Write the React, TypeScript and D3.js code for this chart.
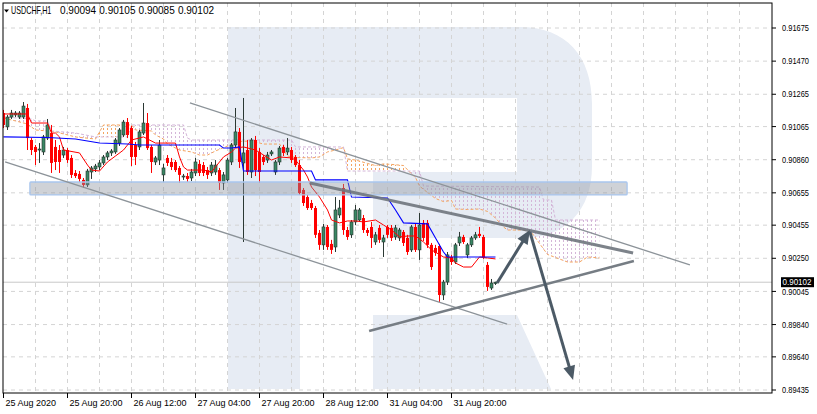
import * as d3 from "d3";

type Pt = [number, number];

// x axis labels, one every 16 hourly bars
const timeLabels = ["25 Aug 2020", "25 Aug 20:00", "26 Aug 12:00", "27 Aug 04:00", "27 Aug 20:00", "28 Aug 12:00", "31 Aug 04:00", "31 Aug 20:00"];
const timeLabelBars = [0, 16, 32, 48, 64, 80, 96, 112];

// right axis labels as MT4 prints them
const priceTicks = [0.91675, 0.9147, 0.91265, 0.91065, 0.9086, 0.90655, 0.90455, 0.9025, 0.90045, 0.8984, 0.8964, 0.89435];

const headerSymbol = "USDCHF,H1";
const headerValues = ["0.90094", "0.90105", "0.90085", "0.90102"];
const lastPrice = 0.90102;

// USDCHF H1 candles
const opens = [
  0.91149, 0.91063, 0.91124, 0.91137, 0.91124, 0.91124, 0.9118, 0.90982, 0.90939, 0.9092,
  0.90908, 0.90994, 0.91025, 0.90939, 0.9092, 0.90889, 0.9092, 0.90871, 0.90778, 0.90772,
  0.90735, 0.90704, 0.90784, 0.90803, 0.90815, 0.9084, 0.90877, 0.90902, 0.90908, 0.90963,
  0.91013, 0.91093, 0.91056, 0.90951, 0.90939, 0.91025, 0.91087, 0.90939, 0.90846, 0.90858,
  0.90766, 0.90871, 0.90846, 0.90846, 0.90809, 0.90753, 0.90759, 0.90747, 0.90778, 0.90834,
  0.90827, 0.90796, 0.90778, 0.90784, 0.90796, 0.90716, 0.90735, 0.90846, 0.90951, 0.91032,
  0.9084, 0.9092, 0.90784, 0.90982, 0.90908, 0.90877, 0.90858, 0.90896, 0.90784, 0.90846,
  0.90939, 0.90908, 0.9092, 0.90877, 0.90827, 0.90673, 0.90629, 0.90592, 0.90561, 0.90407,
  0.90333, 0.90444, 0.90339, 0.9032, 0.90518, 0.90685, 0.90425, 0.90395, 0.90475, 0.90487,
  0.90499, 0.90425, 0.90444, 0.90351, 0.90438, 0.90351, 0.90444, 0.90438, 0.90382, 0.90376,
  0.90413, 0.90376, 0.90302, 0.90444, 0.90302, 0.90469, 0.90469, 0.90333, 0.90314, 0.90326,
  0.90023, 0.90103, 0.90258, 0.90227, 0.90345, 0.90382, 0.90271, 0.90333, 0.90376, 0.90401,
  0.90382, 0.90209, 0.90066, 0.90094,
];
const highs = [
  0.91168, 0.91137, 0.91168, 0.91161, 0.91161, 0.91217, 0.91205, 0.90994, 0.90951, 0.90963,
  0.91013, 0.91112, 0.91075, 0.90982, 0.90951, 0.90939, 0.90932, 0.90889, 0.90796, 0.9079,
  0.90747, 0.90803, 0.90821, 0.90834, 0.90858, 0.90889, 0.90914, 0.90926, 0.90994, 0.91056,
  0.91106, 0.91118, 0.91069, 0.9097, 0.91044, 0.91211, 0.91149, 0.90951, 0.90883, 0.90982,
  0.90834, 0.90889, 0.90871, 0.90858, 0.90821, 0.90772, 0.90778, 0.90803, 0.90871, 0.90858,
  0.90846, 0.90815, 0.90846, 0.90858, 0.90809, 0.90784, 0.90871, 0.90963, 0.9118, 0.91056,
  0.91242, 0.90982, 0.90994, 0.91007, 0.90932, 0.90889, 0.90908, 0.9092, 0.90858, 0.90945,
  0.90951, 0.90994, 0.90939, 0.90889, 0.90858, 0.90685, 0.90642, 0.90611, 0.90574, 0.90425,
  0.90463, 0.90456, 0.90364, 0.90629, 0.90611, 0.9071, 0.90444, 0.90487, 0.9058, 0.90561,
  0.90518, 0.90438, 0.90475, 0.90413, 0.90456, 0.90395, 0.90456, 0.90456, 0.90456, 0.90438,
  0.90425, 0.90395, 0.90456, 0.90463, 0.9053, 0.90487, 0.90487, 0.90345, 0.90333, 0.90339,
  0.90116, 0.90289, 0.90271, 0.90345, 0.90413, 0.90395, 0.90345, 0.90388, 0.90413, 0.90444,
  0.90395, 0.90227, 0.90122, 0.90105,
];
const lows = [
  0.91056, 0.91044, 0.91112, 0.91124, 0.91112, 0.91112, 0.9092, 0.90889, 0.90827, 0.9084,
  0.90889, 0.90982, 0.90778, 0.90796, 0.90778, 0.90871, 0.9084, 0.90747, 0.90747, 0.90722,
  0.90685, 0.90691, 0.90741, 0.90784, 0.90796, 0.90827, 0.90858, 0.90883, 0.90896, 0.90945,
  0.91001, 0.90994, 0.90821, 0.90827, 0.9092, 0.91013, 0.9092, 0.90778, 0.90827, 0.90827,
  0.90722, 0.90821, 0.90796, 0.90784, 0.90716, 0.90735, 0.90722, 0.90728, 0.90759, 0.90759,
  0.90759, 0.90741, 0.90759, 0.90766, 0.90673, 0.90673, 0.90716, 0.90827, 0.90932, 0.90809,
  0.90351, 0.90766, 0.90747, 0.90759, 0.90716, 0.90827, 0.9084, 0.90883, 0.90766, 0.90827,
  0.90883, 0.90889, 0.9084, 0.90815, 0.90642, 0.90574, 0.90549, 0.90549, 0.90376, 0.90302,
  0.90302, 0.90302, 0.90277, 0.90289, 0.90499, 0.90395, 0.90364, 0.90376, 0.90456, 0.90475,
  0.90407, 0.90388, 0.90314, 0.90333, 0.90345, 0.90258, 0.90376, 0.90357, 0.90364, 0.90357,
  0.90326, 0.90271, 0.90289, 0.90289, 0.9024, 0.90357, 0.90314, 0.90178, 0.90265, 0.8998,
  0.89992, 0.90085, 0.90209, 0.90215, 0.90326, 0.90339, 0.90252, 0.9032, 0.90364, 0.90376,
  0.90246, 0.90048, 0.90054, 0.90085,
];
const closes = [
  0.91075, 0.91124, 0.91149, 0.91149, 0.91149, 0.91192, 0.90994, 0.9092, 0.90908, 0.90926,
  0.91001, 0.91075, 0.9084, 0.90846, 0.90846, 0.9092, 0.90858, 0.90766, 0.90759, 0.90741,
  0.90704, 0.9079, 0.90809, 0.90821, 0.9084, 0.90877, 0.90902, 0.90914, 0.90982, 0.91044,
  0.91093, 0.91013, 0.90877, 0.90877, 0.91032, 0.91087, 0.90932, 0.90846, 0.90871, 0.90951,
  0.90809, 0.9084, 0.90815, 0.90796, 0.90766, 0.90759, 0.90741, 0.90784, 0.90846, 0.90778,
  0.90778, 0.90766, 0.90827, 0.90827, 0.90716, 0.90766, 0.90858, 0.90951, 0.91032, 0.90846,
  0.90902, 0.90784, 0.90982, 0.90796, 0.90784, 0.90846, 0.90889, 0.90908, 0.90846, 0.90932,
  0.90902, 0.90932, 0.90858, 0.90827, 0.90654, 0.90592, 0.90561, 0.90561, 0.90395, 0.90333,
  0.90444, 0.9032, 0.90302, 0.90549, 0.90561, 0.90425, 0.90382, 0.90475, 0.90549, 0.90549,
  0.90425, 0.90407, 0.90376, 0.90395, 0.90364, 0.90376, 0.90395, 0.90376, 0.90438, 0.90425,
  0.90345, 0.90289, 0.90444, 0.90302, 0.90456, 0.90376, 0.90333, 0.90196, 0.90283, 0.90023,
  0.90103, 0.90271, 0.90227, 0.90333, 0.90382, 0.90351, 0.90333, 0.90376, 0.90395, 0.90388,
  0.90258, 0.90073, 0.90097, 0.90102,
];

// Ichimoku, [bar, price]
const tenkan: Pt[] = [
  [0, 0.91143], [6, 0.91143], [7, 0.91087], [11, 0.91087], [12, 0.91025], [13, 0.91025], [14, 0.91001],
  [15, 0.9092], [19, 0.90902], [21, 0.90827], [22, 0.90796], [24, 0.9079], [26, 0.90846], [28, 0.90883],
  [30, 0.9092], [31, 0.90951], [32, 0.90982], [35, 0.91001], [38, 0.90963], [43, 0.90963], [44, 0.90877],
  [45, 0.90815], [46, 0.90796], [50, 0.90796], [52, 0.90784], [53, 0.90815], [55, 0.90877], [57, 0.90908],
  [58, 0.90932], [60, 0.90939], [63, 0.9092], [65, 0.90889], [67, 0.90858], [69, 0.90877], [72, 0.90871],
  [73, 0.90858], [75, 0.90796], [76, 0.90753], [77, 0.90691], [79, 0.90629], [81, 0.90549], [82, 0.90487],
  [84, 0.90469], [86, 0.90481], [88, 0.90481], [90, 0.90475], [93, 0.90487], [95, 0.90456], [97, 0.90425],
  [99, 0.90382], [101, 0.90388], [103, 0.90388], [105, 0.90351], [107, 0.90302], [110, 0.90258], [112, 0.90252],
  [113, 0.90221], [115, 0.90196], [117, 0.90196], [119, 0.90258], [121, 0.90252], [123, 0.90246],
];
const kijun: Pt[] = [
  [0, 0.91001], [11, 0.90997], [18, 0.90988], [24, 0.90963], [31, 0.90957], [34, 0.90951], [54, 0.90951],
  [55, 0.90932], [57, 0.90932], [59, 0.90939], [60, 0.9079], [77, 0.9079], [78, 0.90735], [86, 0.90735],
  [87, 0.90629], [96, 0.90623], [98, 0.90549], [100, 0.90469], [106, 0.90463], [108, 0.90376], [110, 0.90289],
  [111, 0.90258], [123, 0.90258],
];
const spanA: Pt[] = [
  [0, 0.91118], [3, 0.911], [6, 0.91081], [8, 0.91044], [11, 0.91038], [13, 0.91032], [18, 0.91001],
  [23, 0.90988], [24, 0.91032], [25, 0.91075], [32, 0.91075], [33, 0.91044], [37, 0.91038], [38, 0.91013],
  [40, 0.90988], [41, 0.90957], [44, 0.9092], [47, 0.90908], [49, 0.90889], [51, 0.90889], [53, 0.90914],
  [55, 0.90935], [57, 0.90954], [59, 0.90973], [62, 0.90976], [65, 0.90957], [69, 0.90957], [71, 0.90883],
  [73, 0.90874], [77, 0.90871], [79, 0.90877], [81, 0.90908], [83, 0.9092], [85, 0.90935], [86, 0.90865],
  [88, 0.90858], [91, 0.90837], [93, 0.90824], [95, 0.90834], [97, 0.90831], [100, 0.90824], [102, 0.90772],
  [103, 0.9075], [104, 0.90697], [106, 0.90657], [108, 0.9062], [110, 0.90601], [112, 0.90608], [113, 0.90555],
  [116, 0.90552], [119, 0.90555], [121, 0.9054], [123, 0.90499], [125, 0.90444], [126, 0.90425], [130, 0.90425],
  [132, 0.9041], [134, 0.90342], [136, 0.90274], [138, 0.90255], [141, 0.90227], [144, 0.90227], [146, 0.90258],
  [149, 0.90252],
];
const spanB: Pt[] = [
  [0, 0.91124], [7, 0.91112], [8, 0.911], [11, 0.911], [12, 0.91038], [18, 0.91025], [23, 0.91001],
  [31, 0.91001], [32, 0.91075], [45, 0.91075], [46, 0.90994], [47, 0.90982], [72, 0.90982], [73, 0.90939],
  [85, 0.90939], [86, 0.9079], [104, 0.9079], [105, 0.90697], [134, 0.90691], [135, 0.90611], [137, 0.90611],
  [138, 0.90487], [149, 0.90487],
];

// analyst drawings, [bar, price]
const channelUpper: Pt[] = [[46.6, 0.91211], [171.6, 0.90209]];
const channelLower: Pt[] = [[0.4, 0.90846], [125.9, 0.89843]];
const resistance: Pt[] = [[76.6, 0.90716], [157.4, 0.90283]];
const support: Pt[] = [[91.4, 0.898], [157.6, 0.90233]];
const arrowUp: Pt[] = [[123.4, 0.90097], [131.6, 0.90425]];
const arrowDown: Pt[] = [[131.6, 0.90413], [142.4, 0.89497]];
const zoneBars = [6.6, 155.9];
const zonePrices = [0.90722, 0.90642];

const PL = 3, PT = 3, PR = 772, PB = 393;
const FONT = "Liberation Sans, Arial, sans-serif";
const ORANGE = "#F4A460";
const LILAC = "#D4B6D8";

export default function App() {
  const x = d3.scaleLinear().domain([0, 149]).range([3.5, 599.5]);
  const y = d3.scaleLinear().domain([0.89435, 0.91675]).range([390, 28]);
  const line = d3.line<Pt>().x((d) => x(d[0])).y((d) => y(d[1]));

  const first = x(0), lastF = x(149);
  const below = (pts: Pt[]) => `${line(pts)}L${lastF},${PB}L${first},${PB}Z`;
  const above = (pts: Pt[]) => `${line(pts)}L${lastF},${PT}L${first},${PT}Z`;

  const head = (pts: Pt[]) => {
    const [a, b] = pts;
    const x1 = x(a[0]), y1 = y(a[1]), x2 = x(b[0]), y2 = y(b[1]);
    const len = Math.hypot(x2 - x1, y2 - y1);
    const ux = (x2 - x1) / len, uy = (y2 - y1) / len;
    const L = 14, Wd = 6;
    const bx = x2 - ux * L, by = y2 - uy * L;
    return `${x2},${y2} ${bx - uy * Wd},${by + ux * Wd} ${bx + uy * Wd},${by - ux * Wd}`;
  };
  const shaft = (pts: Pt[]) => {
    const [a, b] = pts;
    const x1 = x(a[0]), y1 = y(a[1]), x2 = x(b[0]), y2 = y(b[1]);
    const len = Math.hypot(x2 - x1, y2 - y1);
    const k = (len - 10) / len;
    return `M${x1},${y1}L${x1 + (x2 - x1) * k},${y1 + (y2 - y1) * k}`;
  };

  const gridBars = d3.range(8, 200, 8).filter((b) => x(b) < PR - 1);

  return (
    <svg width={817} height={414} style={{ position: "absolute", left: 0, top: 0, background: "#fff" }} fontFamily={FONT}>
      <defs>
        <clipPath id="plot">
          <rect x={PL} y={PT} width={PR - PL} height={PB - PT} />
        </clipPath>
        <clipPath id="aboveB">
          <path d={above(spanB)} />
        </clipPath>
        <clipPath id="aboveA">
          <path d={above(spanA)} />
        </clipPath>
        <pattern id="hatchA" patternUnits="userSpaceOnUse" x={first - 0.5} y={0} width={4} height={4}>
          <rect x={0} y={0} width={1} height={2} fill={ORANGE} />
        </pattern>
        <pattern id="hatchB" patternUnits="userSpaceOnUse" x={first - 0.5} y={0} width={4} height={4}>
          <rect x={0} y={0} width={1} height={2} fill={LILAC} />
        </pattern>
      </defs>

      <rect x={0} y={0} width={817} height={414} fill="#fff" />

      <g clipPath="url(#plot)">
        {/* watermark */}
        <path d="M228,27H520C566,27 592,56 592,104V166C592,210 566,238 522,238H373V172H517V98H300V389H228Z" fill="#E7ECF4" />
        <path d="M373,315H517L551,389H373Z" fill="#E7ECF4" />

        {/* grid */}
        {priceTicks.map((p) => (
          <line key={p} x1={PL} x2={PR} y1={y(p)} y2={y(p)} stroke="#D4D4D4" strokeDasharray="4,4" />
        ))}
        {gridBars.map((b) => (
          <line key={b} x1={x(b)} x2={x(b)} y1={PT} y2={PB} stroke="#D4D4D4" strokeDasharray="4,4" />
        ))}

        {/* current price line */}
        <line x1={PL} x2={PR} y1={y(lastPrice)} y2={y(lastPrice)} stroke="#C8C8C8" />

        {/* kumo */}
        <g clipPath="url(#aboveB)">
          <path d={below(spanA)} fill="url(#hatchA)" />
        </g>
        <g clipPath="url(#aboveA)">
          <path d={below(spanB)} fill="url(#hatchB)" />
        </g>
        <path d={line(spanA) ?? ""} fill="none" stroke={ORANGE} strokeDasharray="3,2" />
        <path d={line(spanB) ?? ""} fill="none" stroke={LILAC} strokeDasharray="3,2" />

        {/* candles */}
        {opens.map((o, i) => {
          const c = closes[i];
          const up = c >= o;
          const cx = x(i);
          const top = y(Math.max(o, c));
          const bot = y(Math.min(o, c));
          return (
            <g key={i}>
              <line x1={cx} x2={cx} y1={y(highs[i])} y2={y(lows[i])} stroke={up ? "#2B3833" : "#FF0000"} />
              <rect
                x={cx - 1.5}
                y={top}
                width={3}
                height={Math.max(1, bot - top)}
                fill={up ? "#3A8764" : "#FF0000"}
                stroke={up ? "#25322D" : "none"}
                strokeWidth={0.6}
              />
            </g>
          );
        })}

        {/* tenkan / kijun */}
        <path d={line(tenkan) ?? ""} fill="none" stroke="#FF0000" strokeWidth={1} />
        <path d={line(kijun) ?? ""} fill="none" stroke="#0000FF" strokeWidth={1.1} />

        {/* horizontal zone */}
        <rect
          x={x(zoneBars[0])}
          y={y(zonePrices[0])}
          width={x(zoneBars[1]) - x(zoneBars[0])}
          height={y(zonePrices[1]) - y(zonePrices[0])}
          rx={1}
          fill="rgb(140,148,160)"
          fillOpacity={0.42}
          stroke="#A9C6EE"
          strokeWidth={1.3}
        />

        {/* trend lines */}
        <path d={line(channelUpper) ?? ""} stroke="#8C9399" strokeWidth={1.3} fill="none" />
        <path d={line(channelLower) ?? ""} stroke="#8C9399" strokeWidth={1.3} fill="none" />
        <path d={line(resistance) ?? ""} stroke="#6F767D" strokeWidth={3} fill="none" strokeOpacity={0.9} />
        <path d={line(support) ?? ""} stroke="#767D84" strokeWidth={2.5} fill="none" />

        {/* arrows */}
        <path d={shaft(arrowUp)} stroke="#4C5A66" strokeWidth={3} fill="none" />
        <polygon points={head(arrowUp)} fill="#4C5A66" />
        <path d={shaft(arrowDown)} stroke="#4C5A66" strokeWidth={3} fill="none" />
        <polygon points={head(arrowDown)} fill="#4C5A66" />
      </g>

      {/* frame */}
      <rect x={PL} y={PT} width={PR - PL} height={PB - PT} fill="none" stroke="#000" />

      {/* header */}
      <polygon points="4,9.5 9,9.5 6.5,12.5" fill="#000" />
      <text transform="translate(11,14) scale(0.72,1)" fontSize={10}>{headerSymbol}</text>
      {headerValues.map((v, i) => (
        <text key={i} x={60 + i * 39.3} y={14} fontSize={10}>{v}</text>
      ))}

      {/* right axis */}
      {priceTicks.map((p) => (
        <g key={p}>
          <line x1={PR} x2={PR + 4} y1={y(p)} y2={y(p)} stroke="#000" />
          <text x={782} y={y(p) + 3.2} fontSize={9} textLength={27} lengthAdjust="spacingAndGlyphs">{p.toFixed(5)}</text>
        </g>
      ))}
      <rect x={781} y={y(lastPrice) - 5} width={33} height={10} fill="#000" />
      <text x={782.5} y={y(lastPrice) + 3.2} fontSize={9} fill="#fff" textLength={29} lengthAdjust="spacingAndGlyphs">{lastPrice.toFixed(5)}</text>

      {/* bottom axis */}
      {timeLabelBars.map((b, i) => (
        <g key={b}>
          <line x1={x(b)} x2={x(b)} y1={PB} y2={PB + 5} stroke="#000" />
          <text x={x(b) + 2} y={406} fontSize={9}>{timeLabels[i]}</text>
        </g>
      ))}
    </svg>
  );
}
